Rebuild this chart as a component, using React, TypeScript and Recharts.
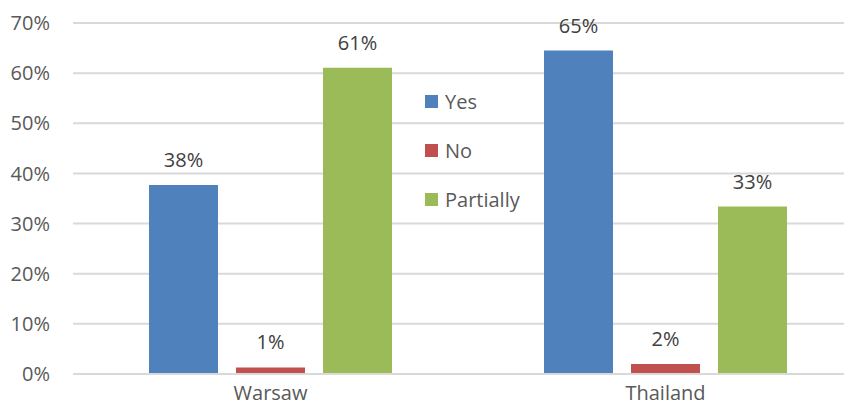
import React from 'react';
import { BarChart, Bar, XAxis, YAxis, CartesianGrid, Legend, LabelList } from 'recharts';

const categories = ['Warsaw', 'Thailand'];
const yesValues = [37.7, 64.5];
const noValues = [1.3, 2.0];
const partiallyValues = [61.1, 33.4];
const yesLabels = ['38%', '65%'];
const noLabels = ['1%', '2%'];
const partiallyLabels = ['61%', '33%'];
const yTicks = [0, 10, 20, 30, 40, 50, 60, 70];

const series = [
  { key: 'yes', label: 'yesLabel', name: 'Yes', color: '#4F81BD' },
  { key: 'no', label: 'noLabel', name: 'No', color: '#C0504D' },
  { key: 'partially', label: 'partiallyLabel', name: 'Partially', color: '#9BBB59' },
];

const data = categories.map((c, i) => ({
  name: c,
  yes: yesValues[i],
  no: noValues[i],
  partially: partiallyValues[i],
  yesLabel: yesLabels[i],
  noLabel: noLabels[i],
  partiallyLabel: partiallyLabels[i],
}));

const FONT = '"Open Sans", sans-serif';

const LegendBox = () => (
  <div style={{ fontFamily: FONT, fontSize: 20, color: '#595959' }}>
    {series.map((s) => (
      <div key={s.key} style={{ display: 'flex', alignItems: 'center', height: 49 }}>
        <span style={{ width: 13, height: 13, background: s.color, marginRight: 7, display: 'inline-block' }} />
        <span>{s.name}</span>
      </div>
    ))}
  </div>
);

export default function App() {
  return (
    <div style={{ width: 852, height: 413, overflow: 'hidden', margin: -8, background: '#fff' }}>
      <BarChart
        width={863}
        height={413}
        data={data}
        margin={{ top: 23, right: 0, left: 0, bottom: 0 }}
        barCategoryGap={76}
        barGap={18}
      >
        <CartesianGrid vertical={false} stroke="#d9d9d9" strokeWidth={2} />
        <XAxis
          dataKey="name"
          height={39}
          tickSize={0}
          tickMargin={12}
          axisLine={{ stroke: '#d9d9d9', strokeWidth: 2 }}
          tick={{ fill: '#595959', fontSize: 20, fontFamily: FONT }}
        />
        <YAxis
          width={73}
          domain={[0, 70]}
          ticks={yTicks}
          tickSize={0}
          tickMargin={23}
          axisLine={false}
          tickFormatter={(v) => `${v}%`}
          tick={{ fill: '#595959', fontSize: 20, fontFamily: FONT }}
        />
        <Legend
          layout="vertical"
          align="center"
          verticalAlign="middle"
          content={() => <LegendBox />}
          wrapperStyle={{ left: 425, top: 77, width: 140 }}
        />
        {series.map((s) => (
          <Bar key={s.key} dataKey={s.key} name={s.name} fill={s.color} isAnimationActive={false}>
            <LabelList
              dataKey={s.label}
              position="top"
              offset={18}
              fill="#404040"
              fontSize={20}
              fontFamily={FONT}
            />
          </Bar>
        ))}
      </BarChart>
    </div>
  );
}
